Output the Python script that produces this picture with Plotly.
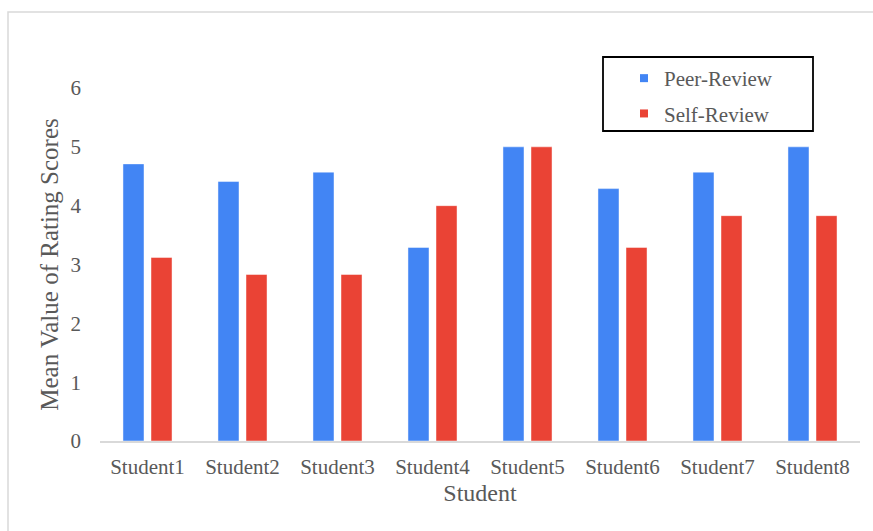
import plotly.graph_objects as go

# Mean rating scores per student
students = ["Student1", "Student2", "Student3", "Student4",
            "Student5", "Student6", "Student7", "Student8"]
peer_review = [4.71, 4.41, 4.57, 3.29, 5.0, 4.29, 4.57, 5.0]
self_review = [3.12, 2.83, 2.83, 4.0, 5.0, 3.29, 3.83, 3.83]
y_ticks = [0, 1, 2, 3, 4, 5, 6]

BLUE = "#4285F4"
RED = "#EA4335"
TEXT = "#595959"
FONT = "Liberation Serif"

fig = go.Figure()

fig.add_trace(go.Bar(
    x=students, y=peer_review, name="Peer-Review", showlegend=False,
    marker=dict(color=BLUE, line=dict(color="rgba(255,255,255,0.45)", width=1)),
))
fig.add_trace(go.Bar(
    x=students, y=self_review, name="Self-Review", showlegend=False,
    marker=dict(color=RED, line=dict(color="rgba(255,255,255,0.45)", width=1)),
))

# small square legend keys
for name, color, grp in [("Peer-Review", BLUE, "a"), ("Self-Review", RED, "b")]:
    fig.add_trace(go.Scatter(
        x=[None], y=[None], mode="markers", name=name, legendgroup=grp,
        marker=dict(symbol="square", size=8, color=color),
    ))

fig.update_layout(
    width=873, height=531,
    margin=dict(l=100, r=13, t=88, b=90),
    paper_bgcolor="white", plot_bgcolor="white",
    barmode="group", bargap=0.41, bargroupgap=0.25,
    font=dict(family=FONT, color=TEXT, size=21),
    showlegend=True,
    legend=dict(
        x=(624 - 100) / 760, y=(441 - 58) / 353, xanchor="left", yanchor="top",
        bgcolor="rgba(0,0,0,0)", borderwidth=0,
        traceorder="grouped", tracegroupgap=5,
        font=dict(family=FONT, size=21, color=TEXT),
    ),
    xaxis=dict(
        showline=True, linecolor="#D9D9D9", linewidth=1.5,
        showgrid=False, ticks="", ticklabelstandoff=6,
        tickfont=dict(family=FONT, size=21, color=TEXT),
        title=dict(text="Student", font=dict(family=FONT, size=24, color=TEXT), standoff=6),
    ),
    yaxis=dict(
        range=[0, 6], tickvals=y_ticks, showgrid=False, zeroline=False,
        showline=False, ticks="", ticklabelstandoff=18,
        tickfont=dict(family=FONT, size=21, color=TEXT),
        title=dict(text="Mean Value of Rating Scores",
                   font=dict(family=FONT, size=25, color=TEXT), standoff=4),
    ),
    shapes=[
        # outer frame (left and top edges visible)
        dict(type="rect", xref="paper", yref="paper",
             x0=(8 - 100) / 760, x1=1.2, y0=-0.6, y1=(441 - 12) / 353,
             line=dict(color="#D9D9D9", width=1.5), layer="below"),
        # legend box
        dict(type="rect", xref="paper", yref="paper",
             x0=(603 - 100) / 760, x1=(813 - 100) / 760,
             y0=(441 - 131) / 353, y1=(441 - 57) / 353,
             line=dict(color="#000000", width=1.8)),
    ],
)

fig.write_html("out.html")
